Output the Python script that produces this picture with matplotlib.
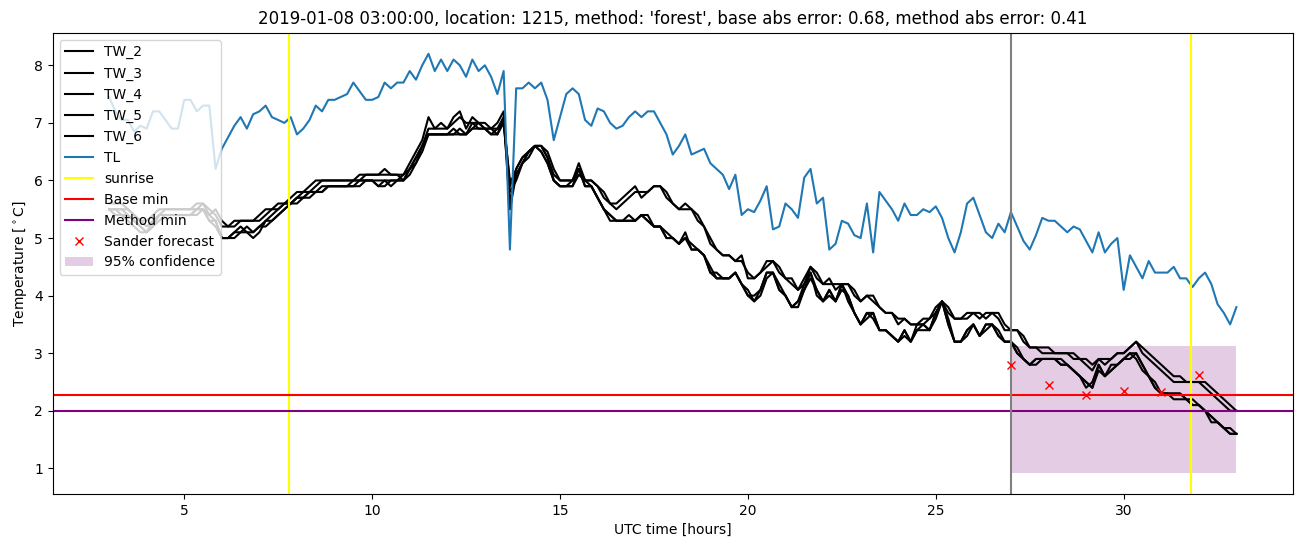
import matplotlib
matplotlib.use("Agg")
import matplotlib.pyplot as plt
import numpy as np

# ---- data (10-minute samples from 03:00 to 33:00 UTC hours) ----
start_hour = 3.0
n_samples = 181

TW_2 = [
    5.6, 5.6, 5.6, 5.5, 5.4, 5.3,
    5.3, 5.4, 5.5, 5.5, 5.5, 5.5,
    5.5, 5.5, 5.6, 5.6, 5.4, 5.5,
    5.3, 5.2, 5.3, 5.3, 5.3, 5.3,
    5.4, 5.5, 5.5, 5.6, 5.6, 5.7,
    5.8, 5.8, 5.9, 6.0, 6.0, 6.0,
    6.0, 6.0, 6.0, 6.0, 6.1, 6.1,
    6.1, 6.1, 6.2, 6.1, 6.1, 6.1,
    6.3, 6.5, 6.7, 7.1, 6.9, 7.0,
    6.9, 7.1, 7.2, 6.9, 7.1, 7.0,
    7.0, 6.9, 7.0, 7.2, 5.6, 6.2,
    6.4, 6.5, 6.6, 6.6, 6.4, 6.1,
    6.0, 6.0, 6.0, 6.3, 6.0, 6.0,
    5.9, 5.7, 5.6, 5.6, 5.7, 5.8,
    5.9, 5.7, 5.8, 5.9, 5.9, 5.7,
    5.6, 5.5, 5.6, 5.5, 5.3, 5.2,
    4.9, 4.8, 4.7, 4.7, 4.6, 4.7,
    4.3, 4.3, 4.4, 4.6, 4.6, 4.4,
    4.3, 4.2, 4.1, 4.3, 4.5, 4.3,
    4.2, 4.3, 4.1, 4.2, 4.2, 4.0,
    3.9, 4.0, 3.9, 3.8, 3.7, 3.7,
    3.5, 3.6, 3.5, 3.5, 3.6, 3.6,
    3.8, 3.9, 3.7, 3.6, 3.6, 3.7,
    3.7, 3.6, 3.7, 3.7, 3.6, 3.4,
    3.4, 3.4, 3.2, 3.1, 3.1, 3.1,
    3.1, 3.0, 3.0, 3.0, 2.9, 2.9,
    2.8, 2.7, 2.9, 2.8, 2.9, 3.0,
    3.0, 3.1, 3.2, 3.0, 2.9, 2.8,
    2.7, 2.6, 2.5, 2.5, 2.5, 2.5,
    2.5, 2.4, 2.3, 2.2, 2.1, 2.0,
    2.0]

TW_3 = [
    5.5, 5.5, 5.5, 5.5, 5.4, 5.3,
    5.2, 5.3, 5.4, 5.5, 5.5, 5.5,
    5.5, 5.5, 5.5, 5.6, 5.5, 5.4,
    5.2, 5.2, 5.2, 5.3, 5.3, 5.3,
    5.3, 5.4, 5.5, 5.5, 5.6, 5.6,
    5.7, 5.8, 5.8, 5.9, 6.0, 6.0,
    6.0, 6.0, 6.0, 6.0, 6.0, 6.1,
    6.1, 6.1, 6.1, 6.1, 6.1, 6.0,
    6.2, 6.4, 6.6, 6.9, 6.9, 6.9,
    6.9, 7.0, 7.1, 7.0, 7.0, 7.0,
    6.9, 6.9, 6.9, 7.1, 5.9, 6.2,
    6.4, 6.5, 6.6, 6.6, 6.5, 6.2,
    6.0, 6.0, 6.0, 6.2, 6.0, 6.0,
    5.9, 5.8, 5.6, 5.5, 5.6, 5.7,
    5.8, 5.8, 5.8, 5.9, 5.9, 5.8,
    5.6, 5.5, 5.5, 5.5, 5.4, 5.2,
    5.0, 4.8, 4.7, 4.7, 4.6, 4.6,
    4.4, 4.3, 4.4, 4.5, 4.6, 4.5,
    4.3, 4.3, 4.1, 4.2, 4.5, 4.4,
    4.2, 4.2, 4.2, 4.2, 4.2, 4.1,
    3.9, 4.0, 4.0, 3.8, 3.7, 3.7,
    3.6, 3.6, 3.5, 3.5, 3.5, 3.6,
    3.7, 3.9, 3.8, 3.6, 3.6, 3.6,
    3.7, 3.7, 3.6, 3.7, 3.7, 3.5,
    3.4, 3.4, 3.3, 3.1, 3.1, 3.0,
    3.0, 3.0, 3.0, 3.0, 3.0, 2.9,
    2.9, 2.8, 2.9, 2.9, 2.9, 3.0,
    3.0, 3.1, 3.2, 3.1, 3.0, 2.9,
    2.8, 2.7, 2.6, 2.6, 2.5, 2.5,
    2.5, 2.5, 2.4, 2.3, 2.2, 2.1,
    2.0]

TW_4 = [
    5.5, 5.5, 5.5, 5.4, 5.3, 5.2,
    5.1, 5.3, 5.4, 5.4, 5.4, 5.4,
    5.4, 5.4, 5.5, 5.5, 5.3, 5.3,
    5.0, 5.0, 5.1, 5.2, 5.1, 5.1,
    5.2, 5.3, 5.4, 5.5, 5.6, 5.6,
    5.7, 5.7, 5.8, 5.8, 5.9, 5.9,
    5.9, 5.9, 5.9, 5.9, 6.0, 6.0,
    6.0, 5.9, 6.0, 6.0, 6.0, 6.1,
    6.2, 6.4, 6.6, 6.8, 6.8, 6.8,
    6.8, 6.9, 6.8, 6.8, 7.0, 6.9,
    6.9, 6.9, 6.8, 7.1, 5.5, 6.1,
    6.3, 6.5, 6.6, 6.5, 6.3, 6.0,
    5.9, 5.9, 5.9, 6.2, 5.9, 5.9,
    5.7, 5.5, 5.4, 5.3, 5.3, 5.3,
    5.3, 5.4, 5.3, 5.2, 5.2, 5.0,
    5.0, 4.9, 5.0, 4.8, 4.8, 4.7,
    4.4, 4.3, 4.3, 4.3, 4.4, 4.2,
    4.0, 3.9, 4.1, 4.4, 4.4, 4.1,
    4.0, 3.8, 3.9, 4.1, 4.4, 4.1,
    3.9, 4.1, 3.9, 4.2, 3.9, 3.7,
    3.5, 3.7, 3.6, 3.4, 3.4, 3.3,
    3.2, 3.4, 3.2, 3.4, 3.5, 3.4,
    3.7, 3.9, 3.5, 3.2, 3.2, 3.4,
    3.5, 3.3, 3.5, 3.5, 3.3, 3.2,
    3.2, 3.0, 2.9, 2.8, 2.9, 2.9,
    2.9, 2.9, 2.8, 2.8, 2.7, 2.6,
    2.5, 2.4, 2.8, 2.6, 2.7, 2.8,
    2.9, 3.0, 3.0, 2.8, 2.6, 2.4,
    2.3, 2.3, 2.3, 2.3, 2.2, 2.1,
    2.1, 2.0, 1.8, 1.8, 1.7, 1.6,
    1.6]

TW_5 = [
    5.5, 5.5, 5.4, 5.4, 5.3, 5.2,
    5.1, 5.2, 5.4, 5.4, 5.4, 5.4,
    5.4, 5.4, 5.5, 5.5, 5.4, 5.3,
    5.0, 5.0, 5.0, 5.1, 5.1, 5.0,
    5.1, 5.3, 5.3, 5.4, 5.5, 5.6,
    5.7, 5.7, 5.7, 5.8, 5.8, 5.9,
    5.9, 5.9, 5.9, 5.9, 5.9, 6.0,
    6.0, 6.0, 6.0, 5.9, 6.0, 6.0,
    6.1, 6.3, 6.5, 6.8, 6.8, 6.8,
    6.8, 6.8, 6.8, 6.8, 6.9, 6.9,
    6.9, 6.8, 6.8, 7.0, 5.8, 6.0,
    6.3, 6.4, 6.6, 6.5, 6.3, 6.0,
    5.9, 5.9, 5.9, 6.1, 6.0, 5.9,
    5.7, 5.5, 5.3, 5.3, 5.3, 5.3,
    5.3, 5.4, 5.4, 5.2, 5.2, 5.1,
    5.0, 4.9, 5.0, 4.9, 4.8, 4.7,
    4.5, 4.3, 4.3, 4.3, 4.4, 4.2,
    4.1, 3.9, 4.0, 4.3, 4.4, 4.2,
    4.0, 3.8, 3.8, 4.1, 4.3, 4.1,
    3.9, 4.0, 3.9, 4.1, 4.0, 3.7,
    3.5, 3.6, 3.7, 3.4, 3.4, 3.3,
    3.2, 3.3, 3.2, 3.4, 3.4, 3.4,
    3.6, 3.9, 3.6, 3.2, 3.2, 3.3,
    3.5, 3.3, 3.4, 3.5, 3.4, 3.2,
    3.2, 3.1, 2.9, 2.8, 2.8, 2.9,
    2.9, 2.9, 2.9, 2.8, 2.7, 2.6,
    2.4, 2.5, 2.8, 2.6, 2.7, 2.8,
    2.9, 2.9, 3.0, 2.8, 2.6, 2.5,
    2.3, 2.3, 2.3, 2.3, 2.2, 2.2,
    2.1, 2.0, 1.9, 1.8, 1.7, 1.7,
    1.6]

TW_6 = [
    5.5, 5.4, 5.4, 5.3, 5.2, 5.1,
    5.1, 5.2, 5.3, 5.4, 5.4, 5.4,
    5.4, 5.4, 5.4, 5.5, 5.3, 5.2,
    5.0, 5.0, 5.1, 5.1, 5.2, 5.1,
    5.2, 5.2, 5.3, 5.4, 5.5, 5.6,
    5.6, 5.7, 5.8, 5.8, 5.8, 5.9,
    5.9, 5.9, 5.9, 6.0, 6.0, 6.0,
    6.0, 5.9, 5.9, 6.0, 6.0, 6.0,
    6.2, 6.3, 6.6, 6.8, 6.8, 6.8,
    6.8, 6.8, 6.9, 6.8, 6.9, 7.0,
    6.9, 6.8, 6.9, 7.0, 6.0, 6.1,
    6.3, 6.5, 6.6, 6.6, 6.4, 6.0,
    5.9, 5.9, 6.0, 6.2, 5.9, 5.9,
    5.7, 5.5, 5.4, 5.3, 5.3, 5.4,
    5.3, 5.4, 5.3, 5.2, 5.2, 5.0,
    5.0, 4.9, 5.1, 4.8, 4.8, 4.7,
    4.4, 4.4, 4.3, 4.3, 4.4, 4.2,
    4.0, 4.0, 4.1, 4.4, 4.4, 4.1,
    4.0, 3.8, 3.9, 4.2, 4.4, 4.0,
    3.9, 4.1, 3.9, 4.2, 4.0, 3.7,
    3.5, 3.7, 3.7, 3.4, 3.4, 3.3,
    3.2, 3.4, 3.2, 3.5, 3.5, 3.4,
    3.7, 3.9, 3.5, 3.2, 3.2, 3.4,
    3.5, 3.3, 3.5, 3.5, 3.3, 3.2,
    3.2, 3.0, 2.9, 2.8, 2.9, 2.9,
    2.9, 2.9, 2.8, 2.8, 2.7, 2.6,
    2.5, 2.4, 2.7, 2.6, 2.8, 2.8,
    2.9, 3.0, 2.9, 2.7, 2.6, 2.4,
    2.3, 2.3, 2.2, 2.2, 2.2, 2.1,
    2.1, 2.0, 1.9, 1.8, 1.7, 1.6,
    1.6]

TL = [
    7.45, 7.2, 7.05, 7.05, 6.85, 6.95,
    6.9, 7.2, 7.2, 7.05, 6.9, 6.9,
    7.4, 7.4, 7.2, 7.3, 7.3, 6.2,
    6.55, 6.75, 6.95, 7.1, 6.9, 7.15,
    7.2, 7.3, 7.1, 7.05, 7.0, 7.1,
    6.8, 6.9, 7.05, 7.3, 7.2, 7.4,
    7.4, 7.45, 7.5, 7.7, 7.55, 7.4,
    7.4, 7.45, 7.7, 7.6, 7.7, 7.7,
    7.9, 7.75, 8.0, 8.2, 7.9, 8.1,
    7.9, 8.1, 8.0, 7.8, 8.1, 7.9,
    8.0, 7.8, 7.5, 7.9, 4.8, 7.6,
    7.6, 7.7, 7.6, 7.7, 7.4, 6.7,
    7.1, 7.5, 7.6, 7.5, 7.05, 6.95,
    7.25, 7.2, 7.0, 6.9, 6.95, 7.1,
    7.2, 7.1, 7.2, 7.2, 7.0, 6.8,
    6.45, 6.6, 6.8, 6.45, 6.5, 6.55,
    6.3, 6.2, 6.1, 5.85, 6.1, 5.4,
    5.5, 5.45, 5.65, 5.9, 5.15, 5.2,
    5.6, 5.5, 5.35, 6.05, 6.2, 5.6,
    5.7, 4.8, 4.9, 5.3, 5.25, 5.05,
    5.0, 5.6, 4.75, 5.8, 5.65, 5.5,
    5.3, 5.6, 5.4, 5.4, 5.5, 5.45,
    5.55, 5.35, 5.0, 4.75, 5.1, 5.6,
    5.7, 5.4, 5.1, 5.0, 5.25, 5.1,
    5.45, 5.2, 4.95, 4.8, 5.05, 5.35,
    5.3, 5.3, 5.2, 5.1, 5.2, 5.15,
    4.95, 4.75, 5.1, 4.75, 4.9, 5.0,
    4.1, 4.7, 4.5, 4.3, 4.6, 4.4,
    4.4, 4.4, 4.5, 4.3, 4.3, 4.15,
    4.3, 4.4, 4.2, 3.85, 3.7, 3.5,
    3.8]

tw_names = ["TW_2", "TW_3", "TW_4", "TW_5", "TW_6"]
tw_values = [TW_2, TW_3, TW_4, TW_5, TW_6]

sunrise_hours = [7.8, 31.78]
forecast_start = 27.0
base_min = 2.28
method_min = 2.0
forecast_hours = [27, 28, 29, 30, 31, 32]
forecast_values = [2.80, 2.45, 2.28, 2.35, 2.33, 2.62]
conf_hours = [27, 33]
conf_low = 0.92
conf_high = 3.12

title = ("2019-01-08 03:00:00, location: 1215, method: 'forest', "
         "base abs error: 0.68, method abs error: 0.41")

# ---- plot ----
hours = start_hour + np.arange(n_samples) / 6.0

fig, ax = plt.subplots(figsize=(13.02, 5.47), dpi=100)
fig.subplots_adjust(left=0.0405, right=0.9929, top=0.940, bottom=0.097)

for name, vals in zip(tw_names, tw_values):
    ax.plot(hours, vals, color="black", label=name)
ax.plot(hours, TL, color="C0", label="TL")
ax.axvline(sunrise_hours[0], color="yellow", label="sunrise")
ax.axvline(sunrise_hours[1], color="yellow")
ax.axhline(base_min, color="red", label="Base min")
ax.axhline(method_min, color="purple", label="Method min")
ax.axvline(forecast_start, color="grey")
ax.plot(forecast_hours, forecast_values, "x", color="red", label="Sander forecast")
ax.fill_between(conf_hours, [conf_low, conf_low], [conf_high, conf_high],
                color="purple", alpha=0.2, linewidth=0, label="95% confidence")

ax.set_title(title)
ax.set_xlabel("UTC time [hours]")
ax.set_ylabel(r"Temperature [$^\circ$C]")
ax.legend(loc="upper left")

fig.savefig("out.png", dpi=100)
